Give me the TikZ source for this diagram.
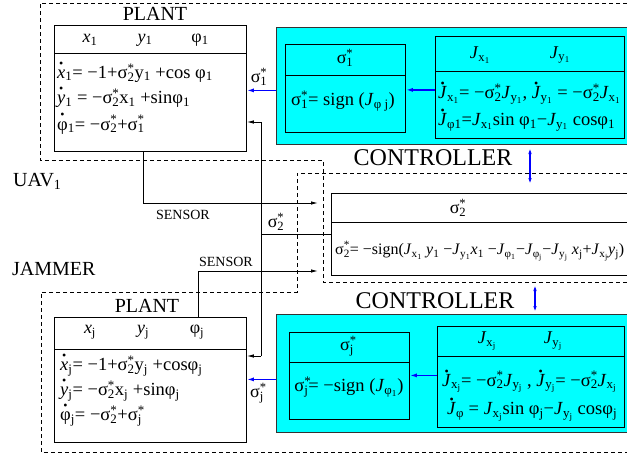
\documentclass[tikz,border=0pt]{standalone}
\usepackage{fontspec}
\setmainfont{Liberation Serif}
\usepackage{graphicx}
\usetikzlibrary{arrows.meta}
\definecolor{cy}{RGB}{0,255,255}
\newcommand\sbs[1]{\textsubscript{#1}}
\newcommand\ssr[1]{σ\rlap{\textsuperscript{*}}\textsubscript{#1}}
\newcommand\dt[1]{\ooalign{#1\cr\hidewidth\raisebox{0.6em}{\fontsize{12}{12}\selectfont •}\hidewidth\cr}}
\begin{document}
\begin{tikzpicture}[x=1pt,y=-1pt,
  box/.style={draw,line width=0.8pt,anchor=north west,inner sep=0pt},
  cbox/.style={box,fill=cy,draw=black!80},
  dsh/.style={dashed,dash pattern=on 4pt off 3pt,line width=0.8pt},
  arr/.style={line width=0.9pt,-{Latex[length=7pt,width=3.5pt]}},
  barr/.style={draw=blue,line width=1.5pt,-{Latex[length=7pt,width=4pt]}},
  darr/.style={draw=blue,line width=1.2pt,{Latex[length=6pt,width=3.5pt]}-{Latex[length=6pt,width=3.5pt]}},
  eq/.style={anchor=west,inner sep=0pt,font=\fontsize{18.5}{20}\selectfont},
  hd/.style={inner sep=0pt,font=\fontsize{18}{20}\selectfont},
  lbl/.style={inner sep=0pt,font=\fontsize{20}{22}\selectfont},
  sml/.style={inner sep=0pt,font=\fontsize{14}{16}\selectfont},
]
\useasboundingbox (0,0) rectangle (627,459);
% dashed regions
\draw[dsh] (627,3) -- (40,3) -- (40,160) -- (323,160) -- (323,282) -- (627,282);
\draw[dsh] (627,173) -- (297,173) -- (297,292) -- (41,292) -- (41,452) -- (627,452);

% top plant
\node[lbl] (pl1) at (155,14) {PLANT};
\node[box,minimum width=192pt,minimum height=126pt] (p1) at (54,25) {};
\draw[line width=0.8pt] (54,53) -- (246,53);
\node[hd] (h1a) at (90,40) {\textit{x}\sbs{1}};
\node[hd] (h1b) at (145,40) {\textit{y}\sbs{1}};
\node[hd] (h1c) at (200,40) {φ\sbs{1}};
\node[eq] (e1a) at (57,73) {\dt{\textit{x}}\sbs{1}= −1+\ssr{2}y\sbs{1} +cos φ\sbs{1}};
\node[eq] (e1b) at (57,98) {\dt{\textit{y}}\sbs{1} = −\ssr{2}x\sbs{1} +sinφ\sbs{1}};
\node[eq] (e1c) at (57,124) {\dt{φ}\sbs{1}= −\ssr{2}+\ssr{1}};

% top controller
\node[cbox,minimum width=352pt,minimum height=117pt] (c1) at (276,27) {};
\node[box,minimum width=120pt,minimum height=88pt] (sb1) at (285,44) {};
\draw[line width=0.8pt] (285,75) -- (405,75);
\node[hd] (hs1) at (345,58) {\ssr{1}};
\node[hd,font=\fontsize{18.5}{20}\selectfont] (es1) at (343,101) {\ssr{1}= sign (\textit{J}\sbs{φ j})};
\node[box,minimum width=189pt,minimum height=102pt] (jb1) at (435,36) {};
\draw[line width=0.8pt] (435,71) -- (624,71);
\node[hd] (hj1a) at (480,55) {\textit{J}\sbs{x\sbs{1}}};
\node[hd] (hj1b) at (560,55) {\textit{J}\sbs{y\sbs{1}}};
\node[eq] (ej1a) at (438,94) {\dt{\textit{J}}\sbs{x\sbs{1}}= −\ssr{2}\textit{J}\sbs{y\sbs{1}}, \dt{\textit{J}}\sbs{y\sbs{1}} = −\ssr{2}\textit{J}\sbs{x\sbs{1}}};
\node[eq] (ej1b) at (438,122) {\dt{\textit{J}}\sbs{φ1}=\textit{J}\sbs{x\sbs{1}}sin φ\sbs{1}−\textit{J}\sbs{y\sbs{1}} cosφ\sbs{1}};
\node[lbl,font=\fontsize{24}{26}\selectfont] (ct1) at (433,158) {CONTROLLER};

% sigma2 box
\node[box,minimum width=300pt,minimum height=82pt] (s2) at (331,193) {};
\draw[line width=0.8pt] (331,222) -- (631,222);
\node[hd] (hs2) at (458,208) {\ssr{2}};
\node[eq,font=\fontsize{16}{18}\selectfont] (es2) at (335,251) {\ssr{2}= −sign(\textit{J}\sbs{x\sbs{1}} \textit{y}\sbs{1} −\textit{J}\sbs{y\sbs{1}}\textit{x}\sbs{1} −\textit{J}\sbs{φ\sbs{1}}−\textit{J}\sbs{φ\sbs{j}}−\textit{J}\sbs{y\sbs{j}} \textit{x}\sbs{j}+\textit{J}\sbs{x\sbs{j}}\textit{y}\sbs{j})};

% bottom plant
\node[lbl] (pl2) at (147,306) {PLANT};
\node[box,minimum width=192pt,minimum height=125pt] (p2) at (54,317) {};
\draw[line width=0.8pt] (54,349) -- (246,349);
\node[hd] (h2a) at (90,332) {\textit{x}\sbs{j}};
\node[hd] (h2b) at (143,332) {\textit{y}\sbs{j}};
\node[hd] (h2c) at (197,332) {φ\sbs{j}};
\node[eq] (e2a) at (60,366) {\dt{\textit{x}}\sbs{j}= −1+\ssr{2}y\sbs{j} +cosφ\sbs{j}};
\node[eq] (e2b) at (60,391) {\dt{\textit{y}}\sbs{j}= −\ssr{2}x\sbs{j} +sinφ\sbs{j}};
\node[eq] (e2c) at (60,416) {\dt{φ}\sbs{j}= −\ssr{2}+\ssr{j}};

% bottom controller
\node[lbl,font=\fontsize{24}{26}\selectfont] (ct2) at (435,301) {CONTROLLER};
\node[cbox,minimum width=352pt,minimum height=118pt] (c2) at (276,314) {};
\node[box,minimum width=120pt,minimum height=87pt] (sb2) at (289,332) {};
\draw[line width=0.8pt] (289,362) -- (409,362);
\node[hd] (hs2b) at (347,346) {\ssr{j}};
\node[hd,font=\fontsize{18.5}{20}\selectfont] (es2b) at (349,387) {\ssr{j}= −sign (\textit{J}\sbs{φ\sbs{1}})};
\node[box,minimum width=187pt,minimum height=101pt] (jb2) at (437,326) {};
\draw[line width=0.8pt] (437,356) -- (624,356);
\node[hd] (hj2a) at (487,341) {\textit{J}\sbs{x\sbs{j}}};
\node[hd] (hj2b) at (553,341) {\textit{J}\sbs{y\sbs{j}}};
\node[eq] (ej2a) at (442,382) {\dt{\textit{J}}\sbs{x\sbs{j}}= −\ssr{2}\textit{J}\sbs{y\sbs{j}} , \dt{\textit{J}}\sbs{y\sbs{j}}= −\ssr{2}\textit{J}\sbs{x\sbs{j}}};
\node[eq] (ej2b) at (447,412) {\dt{\textit{J}}\sbs{φ} = \textit{J}\sbs{x\sbs{j}}sin φ\sbs{j}−\textit{J}\sbs{y\sbs{j}} cosφ\sbs{j}};

% side labels
\node[lbl,anchor=west] (uav) at (13,181) {UAV\sbs{1}};
\node[lbl,anchor=west] (jam) at (12,269) {JAMMER};
\node[sml] (sen1) at (183,215) {SENSOR};
\node[sml] (sen2) at (226,262) {SENSOR};
\node[hd] (ls1) at (259,77) {\ssr{1}};
\node[hd] (ls2) at (276,222) {\ssr{2}};
\node[hd] (lsj) at (257,393) {\ssr{j}};

% connectors
\coordinate (se1) at (318,203);
\coordinate (se2) at (318,271);
\draw[arr] ([xshift=-7pt]p1.south) |- (se1);
\draw[arr] ([xshift=48pt]p2.north) |- (se2);
\coordinate (jt) at (261,122);
\coordinate (jb) at (261,356);
\draw[line width=0.9pt] (jt) -- (jb);
\draw[line width=0.9pt] (s2.west) -- (s2.west -| jt);
\draw[arr] (jt) -- (jt -| p1.east);
\draw[arr] (jb) -- (jb -| p2.east);
\draw[barr] ([yshift=-4.5pt]c1.west) -- ([yshift=-4.5pt]c1.west -| p1.east);
\draw[barr] ([yshift=-2.5pt]jb1.west) -- ([yshift=-2.5pt]jb1.west -| sb1.east);
\draw[barr] ([yshift=-6pt]c2.west) -- ([yshift=-6pt]c2.west -| p2.east);
\draw[barr] ([yshift=1.5pt]jb2.west) -- ([yshift=1.5pt]jb2.west -| sb2.east);
\coordinate (d1a) at (530,148);
\coordinate (d1b) at (530,184);
\coordinate (d2a) at (535,285);
\coordinate (d2b) at (535,312);
\draw[darr] (d1a) -- (d1b);
\draw[darr] (d2a) -- (d2b);
\end{tikzpicture}
\end{document}
